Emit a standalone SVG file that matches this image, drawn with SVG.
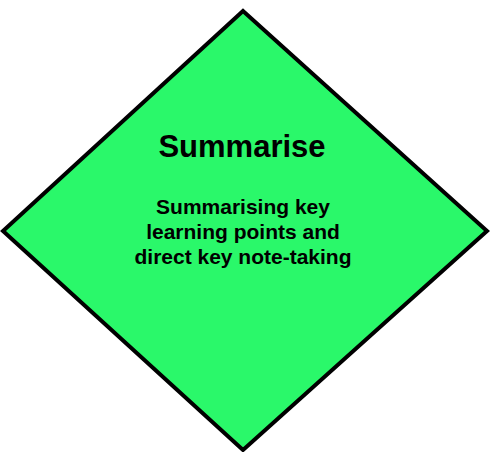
<svg xmlns="http://www.w3.org/2000/svg" width="493" height="452" viewBox="0 0 493 452">
<style>
.shape{fill:#2af86a;stroke:#000;stroke-width:4;stroke-linejoin:miter}
.title{font-family:"Liberation Sans",Arial,sans-serif;font-weight:bold;font-size:31px;fill:#000;text-anchor:middle}
.body{font-family:"Liberation Sans",Arial,sans-serif;font-weight:bold;font-size:21px;fill:#000;text-anchor:middle}
</style>
<g id="node-summarise">
<path class="shape" d="M243,11 L487,231 L243,450 L3,231 Z"/>
<text class="title" x="242" y="157">Summarise</text>
<text class="body" x="243" y="214">Summarising key</text>
<text class="body" x="243" y="239">learning points and</text>
<text class="body" x="243" y="264">direct key note-taking</text>
</g>
<g id="connectors"></g>
</svg>
